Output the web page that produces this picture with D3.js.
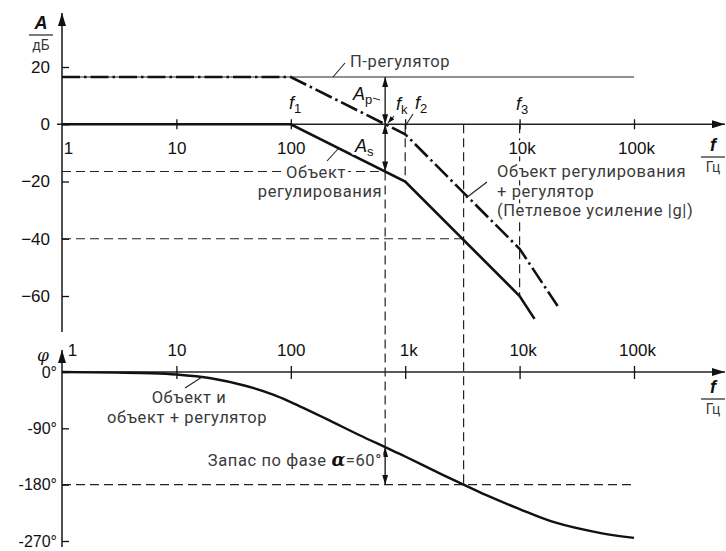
<!DOCTYPE html>
<html><head><meta charset="utf-8">
<script src="https://cdn.jsdelivr.net/npm/d3@7"></script>
<style>
body{margin:0;background:#fff;}
svg{display:block;}
.tick text{font-family:"Liberation Sans",Arial,sans-serif;font-size:17px;fill:#111;}
.ann{font-family:Roboto,"Liberation Sans",sans-serif;font-size:16.5px;letter-spacing:0.6px;fill:#3a3a3a;}
.halo{stroke:#fff;stroke-width:6px;stroke-linejoin:round;fill:#fff;}
.it{font-family:"Liberation Sans",Arial,sans-serif;font-style:italic;font-size:18px;fill:#111;}
</style></head>
<body>
<svg id="c" width="726" height="551"></svg>
<script>
// ---------- data ----------
const freqTicks = [1, 10, 100, 1000, 10000, 100000];
const magTickLabels = ["1", "10", "100", "", "10k", "100k"];
const phaseTickLabels = ["1", "10", "100", "1k", "10k", "100k"];
const magTicks = [20, 0, -20, -40, -60];
const phaseTicks = [0, -90, -180, -270];
const phaseTickText = ["0°", "-90°", "-180°", "-270°"];

// magnitude, plant ("Объект регулирования")
const plantFreq = [1, 100, 1000, 10000, 13500];
const plantDb   = [0, 0, -20, -60, -68];
// magnitude, plant + controller (loop gain)
const loopFreq = [1, 100, 1000, 10000, 21500];
const loopDb   = [16.5, 16.5, -3.5, -43.5, -63.5];
// P-controller gain
const pFreq = [1, 100000];
const pDb   = [16.5, 16.5];
// phase (plant and plant + controller)
const phaseFreq = [1, 3, 6, 10, 20, 40, 70, 100, 200, 400, 668, 1000, 2000, 3240, 5000, 10000, 20000, 50000, 100000];
const phaseDeg  = [0, -1, -2, -4, -10, -22, -36, -48, -74, -101, -120, -135, -162, -180, -196, -219, -240, -257, -265];

// guide values
const fK = 668;          // crossover frequency
const fC = 3240;         // phase -180° frequency
const plantAtFk = -16.5; // dB
const plantAtFc = -40;   // dB
const phaseAtFk = -120;
const corner2 = 1000, corner3 = 10000;

// ---------- scales ----------
const x  = d3.scaleLog().domain([1, 100000]).range([62, 634]);
const yA = d3.scaleLinear().domain([20, -60]).range([67, 296]);
const yP = d3.scaleLinear().domain([0, -270]).range([372, 541]);

const svg = d3.select("#c");
const defs = svg.append("defs");
function marker(id, w, h, refX) {
  defs.append("marker").attr("id", id).attr("viewBox", `0 0 ${w} ${h}`)
    .attr("refX", refX).attr("refY", h / 2).attr("markerWidth", w).attr("markerHeight", h)
    .attr("markerUnits", "userSpaceOnUse").attr("orient", "auto-start-reverse")
    .append("path").attr("d", `M0,0L${w},${h/2}L0,${h}Z`).attr("fill", "#111");
}
marker("axArrow", 13, 8, 13);
marker("dimArrow", 10, 6, 10);
marker("ldArrow", 7, 5, 7);

const dash = "9,5";
function gline(x1, y1, x2, y2, opts = {}) {
  return svg.append("line").attr("x1", x1).attr("y1", y1).attr("x2", x2).attr("y2", y2)
    .attr("stroke", opts.color || "#222").attr("stroke-width", opts.w || 1.2)
    .attr("stroke-dasharray", opts.dash || null);
}

// ---------- guide dashed lines ----------
gline(x(1), yA(plantAtFk), x(fK), yA(plantAtFk), {dash});
gline(x(1), yA(plantAtFc), x(fC), yA(plantAtFc), {dash});
gline(x(fK), yA(plantAtFk), x(fK), yP(phaseAtFk), {dash});
gline(x(corner2), yA(0), x(corner2), yA(-20), {dash});
gline(x(corner3), yA(0), x(corner3), yA(-60), {dash});
gline(x(fC), yA(0), x(fC), yP(-180), {dash});
gline(x(1), yP(-180), x(100000), yP(-180), {dash});

// ---------- axes ----------
gline(57, yA(0), 725, yA(0), {w: 1.6}).attr("marker-end", "url(#axArrow)");
const axM = svg.append("g").attr("transform", `translate(0,${yA(0)})`)
  .call(d3.axisBottom(x).tickValues(freqTicks).tickSize(5).tickPadding(9)
    .tickFormat((d, i) => magTickLabels[i]));
axM.select(".domain").remove();
axM.selectAll(".tick line").attr("y1", -5).attr("stroke", "#111").attr("stroke-width", 1.3)
  .filter(d => d === 1).remove();
axM.selectAll(".tick text").attr("dy", "0.9em")
  .style("paint-order", "stroke").style("stroke", "#fff").style("stroke-width", "5px")
  .attr("dx", d => d === 1 ? 6 : (d >= 10000 ? 2 : 0));

gline(62, 332, 62, 13, {w: 1.6}).attr("marker-end", "url(#axArrow)");
const ayM = svg.append("g").attr("transform", "translate(62,0)")
  .call(d3.axisLeft(yA).tickValues(magTicks).tickSize(6).tickPadding(8));
ayM.select(".domain").remove();
ayM.selectAll(".tick line").attr("x2", 7).attr("stroke", "#111").attr("stroke-width", 1.3);
ayM.selectAll(".tick text").attr("x", -12);

gline(62, yP(0), 725, yP(0), {w: 1.6}).attr("marker-end", "url(#axArrow)");
const axP = svg.append("g").attr("transform", `translate(0,${yP(0)})`)
  .call(d3.axisTop(x).tickValues(freqTicks).tickSize(6).tickPadding(8)
    .tickFormat((d, i) => phaseTickLabels[i]));
axP.select(".domain").remove();
axP.selectAll(".tick line").attr("y1", 7).attr("stroke", "#111").attr("stroke-width", 1.3)
  .filter(d => d === 1).remove();
axP.selectAll(".tick text").attr("dx", d => d === 1 ? 10 : (d >= 1000 ? 3 : 0)).attr("dy", "-0.1em");

gline(62, 547, 62, 350, {w: 1.6}).attr("marker-end", "url(#axArrow)");
const ayP = svg.append("g").attr("transform", "translate(62,0)")
  .call(d3.axisLeft(yP).tickValues(phaseTicks).tickSize(6).tickPadding(6)
    .tickFormat((d, i) => phaseTickText[i]));
ayP.select(".domain").remove();
ayP.selectAll(".tick line").attr("x2", 7).attr("stroke", "#111").attr("stroke-width", 1.3);
ayP.selectAll(".tick text").attr("x", -5).style("font-size", "16px");

// ---------- axis titles ----------
function fraction(cx, top, upper, lower) {
  svg.append("text").attr("x", cx).attr("y", top).attr("text-anchor", "middle")
    .attr("class", "it").style("font-weight", "bold").text(upper);
  gline(cx - 12, top + 6, cx + 12, top + 6, {w: 1.2});
  svg.append("text").attr("x", cx).attr("y", top + 21).attr("text-anchor", "middle")
    .attr("class", "ann").style("font-size", "14px").style("letter-spacing", "0px").text(lower);
}
fraction(41, 29, "A", "дБ");
fraction(713, 151, "f", "Гц");
fraction(713, 393, "f", "Гц");
svg.append("text").attr("x", 43).attr("y", 361).attr("text-anchor", "middle")
  .attr("class", "it").style("font-family", "DejaVu Serif, serif").style("font-size", "17px").text("φ");

// ---------- curves ----------
const lineMag = d3.line().x(d => x(d[0])).y(d => yA(d[1]));
svg.append("path").datum(d3.zip(pFreq, pDb)).attr("d", lineMag)
  .attr("fill", "none").attr("stroke", "#222").attr("stroke-width", 1.2);
svg.append("path").datum(d3.zip(plantFreq, plantDb)).attr("d", lineMag)
  .attr("fill", "none").attr("stroke", "#111").attr("stroke-width", 2.6);
svg.append("path").datum(d3.zip(loopFreq, loopDb)).attr("d", lineMag)
  .attr("fill", "none").attr("stroke", "#111").attr("stroke-width", 2.6)
  .attr("stroke-dasharray", "18,4,2.5,4");

const linePh = d3.line().x(d => x(d[0])).y(d => yP(d[1])).curve(d3.curveCatmullRom.alpha(0.5));
svg.append("path").datum(d3.zip(phaseFreq, phaseDeg)).attr("d", linePh)
  .attr("fill", "none").attr("stroke", "#111").attr("stroke-width", 2.4);

// ---------- dimension arrows ----------
function dimArrow(xx, y1, y2) {
  gline(xx, y1, xx, y2, {w: 1.4}).attr("marker-start", "url(#dimArrow)").attr("marker-end", "url(#dimArrow)");
}
dimArrow(x(fK), yA(pDb[0]), yA(0));
dimArrow(x(fK), yA(0), yA(plantAtFk));
dimArrow(x(fK), yP(phaseAtFk), yP(-180));

// ---------- annotations ----------
// text with a white halo underneath (drawn as a separate copy)
function label(xx, yy, parts, opts = {}) {
  const out = [];
  for (const pass of (opts.halo ? ["halo", "fill"] : ["fill"])) {
    const t = svg.append("text").attr("x", xx).attr("y", yy)
      .attr("class", opts.cls || "ann").attr("text-anchor", opts.anchor || "start");
    if (pass === "halo") t.classed("halo", true);
    for (const p of parts) {
      const s = t.append("tspan").text(p.t);
      if (p.style) for (const k in p.style) s.style(k, p.style[k]);
      if (p.dy) s.attr("dy", p.dy);
      if (pass === "halo") s.style("fill", "#fff");
    }
    out.push(t);
  }
  return out;
}
function sub(xx, yy, main, s) {
  label(xx, yy, [{t: main}, {t: s, dy: 4, style: {"font-size": "13px", "font-style": "normal"}}], {cls: "it", halo: true});
}
sub(289, 109, "f", "1");
sub(396, 110, "f", "k");
sub(415, 109, "f", "2");
sub(516, 110, "f", "3");
sub(353, 100, "A", "p");
sub(355, 152, "A", "s");
gline(373, 98, 380, 100, {w: 1});
gline(394, 116, 388, 123, {w: 1.1}).attr("marker-end", "url(#ldArrow)");
gline(406, 125, 413, 114, {w: 1.1});

// П-регулятор
gline(333, 77, 345, 63, {w: 1.1});
label(350, 67, [{t: "П-регулятор"}]);

// plant label
gline(327, 161, 338, 149, {w: 1.1});
label(316, 178, [{t: "Объект"}], {anchor: "middle", halo: true});
label(320, 197, [{t: "регулирования"}], {anchor: "middle", halo: true});

// loop label
gline(466, 198, 487, 182, {w: 1.1});
label(497, 177, [{t: "Объект регулирования"}], {halo: true});
label(497, 197, [{t: "+ регулятор"}], {halo: true});
label(497, 216, [{t: "(Петлевое усиление |"}, {t: "g", style: {"text-decoration": "underline"}}, {t: "|)"}], {halo: true});

// phase labels
gline(185, 388, 202, 377, {w: 1.1});
label(189, 403, [{t: "Объект и"}], {anchor: "middle"});
label(187, 423, [{t: "объект + регулятор"}], {anchor: "middle"});

label(382, 466, [{t: "Запас по фазе "},
  {t: "α", style: {"font-family": "DejaVu Serif, serif", "font-style": "italic", "font-weight": "bold", "font-size": "18px", "fill": "#111"}},
  {t: "=60°"}], {anchor: "end", halo: true});
</script>
</body></html>
